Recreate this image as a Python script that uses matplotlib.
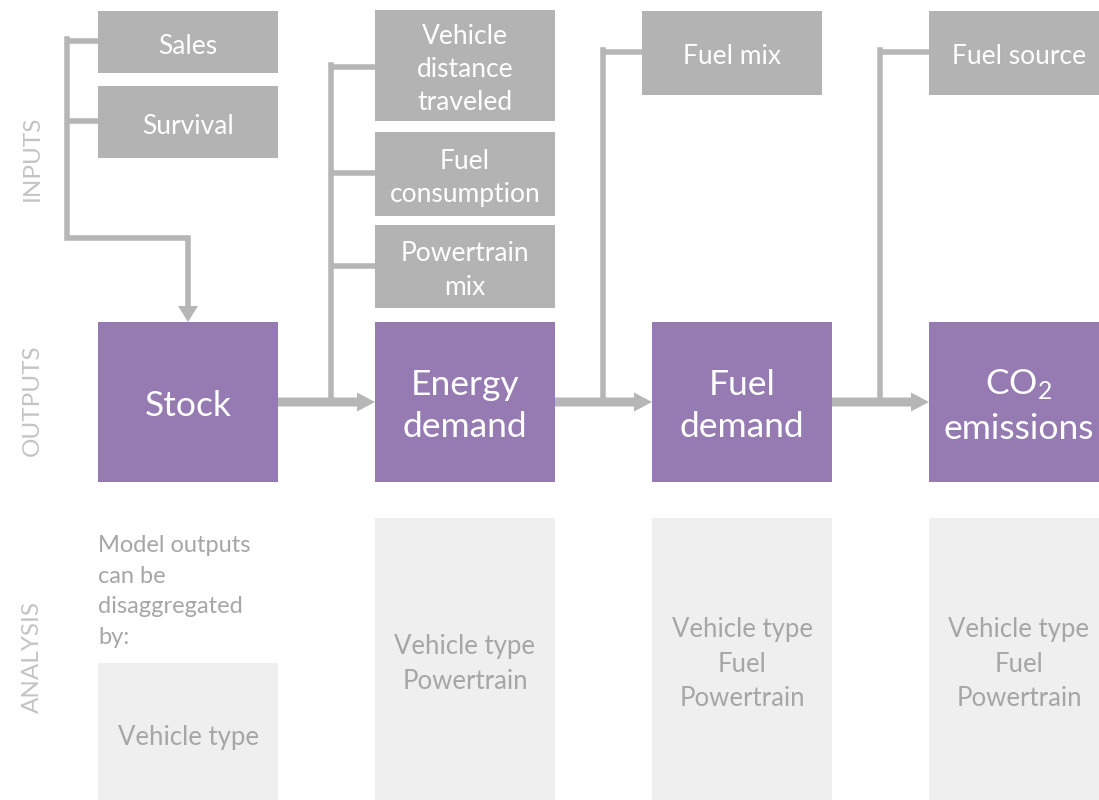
import matplotlib.pyplot as plt
from matplotlib.patches import Rectangle, FancyArrow

plt.rcParams["font.family"] = ["Lato", "DejaVu Sans"]
plt.rcParams["mathtext.fontset"] = "custom"
plt.rcParams["mathtext.rm"] = "Lato"
plt.rcParams["mathtext.it"] = "Lato"

# diagram content
row_labels = ["INPUTS", "OUTPUTS", "ANALYSIS"]
input_labels = [
    ["Sales", "Survival"],
    ["Vehicle\ndistance\ntraveled", "Fuel\nconsumption", "Powertrain\nmix"],
    ["Fuel mix"],
    ["Fuel source"],
]
output_labels = ["Stock", "Energy\ndemand", "Fuel\ndemand", "CO$_2$\nemissions"]
analysis_labels = [
    "Vehicle type",
    "Vehicle type\nPowertrain",
    "Vehicle type\nFuel\nPowertrain",
    "Vehicle type\nFuel\nPowertrain",
]
analysis_note = "Model outputs\ncan be\ndisaggregated\nby:"

# layout (pixels, y measured from top)
col_x = [98, 375, 652, 929]
col_w = 180
input_boxes = [
    [(11, 73), (86, 158)],
    [(10, 121), (132, 216), (225, 308)],
    [(11, 95)],
    [(11, 95)],
]
input_shift = [0, 0, -10, 0]
connector_x = [67, 331, 603, 880]
branch_y = [[41, 121], [67, 173, 266], [52], [52]]
out_top, out_bot = 322, 482
ana_tops = [663, 518, 518, 518]
arrow_y = 402

PURPLE = "#957BB1"
GREY = "#B3B3B3"
LINE = "#B6B6B6"
PALE = "#EFEFEF"
PALE_TXT = "#A6A6A6"
LABEL_TXT = "#C4C4C4"

fig = plt.figure(figsize=(10.99, 8.0), dpi=100)
ax = fig.add_axes([0, 0, 1, 1])
ax.set_xlim(0, 1099)
ax.set_ylim(800, 0)
ax.axis("off")

lw_thin = 4.0

for i, x0 in enumerate(col_x):
    xi = x0 + input_shift[i]
    cx = connector_x[i]
    for (t, b), lab in zip(input_boxes[i], input_labels[i]):
        ax.add_patch(Rectangle((xi, t), col_w, b - t, color=GREY, lw=0))
        ax.text(xi + col_w / 2, (t + b) / 2 + 4, lab, ha="center", va="center",
                color="white", fontsize=19, linespacing=1.42)

    # connector from inputs down to the flow
    for y in branch_y[i]:
        ax.plot([cx, xi], [y, y], color=LINE, lw=lw_thin, solid_capstyle="butt")
    if i == 0:
        ax.plot([cx, cx, 188, 188], [branch_y[i][0] - 2, 238, 238, 306],
                color=LINE, lw=lw_thin, solid_joinstyle="miter")
        ax.add_patch(FancyArrow(188, 304, 0, 18, width=0, head_width=20,
                                head_length=16, length_includes_head=True,
                                color=LINE, lw=0))
    else:
        ax.plot([cx, cx], [branch_y[i][0] - 2, arrow_y], color=LINE, lw=lw_thin,
                solid_joinstyle="miter")

    # output box
    ax.add_patch(Rectangle((x0, out_top), col_w, out_bot - out_top, color=PURPLE, lw=0))
    ax.text(x0 + col_w / 2, (out_top + out_bot) / 2 + 4, output_labels[i],
            ha="center", va="center", color="white", fontsize=25.5, linespacing=1.42)

    # analysis box
    ax.add_patch(Rectangle((x0, ana_tops[i]), col_w, 800 - ana_tops[i] + 5,
                           color=PALE, lw=0))
    ty = 737 if i == 0 else 664
    ax.text(x0 + col_w / 2, ty, analysis_labels[i], ha="center", va="center",
            color=PALE_TXT, fontsize=18.5, linespacing=1.5)

    # main arrow from previous output
    if i > 0:
        xs = col_x[i - 1] + col_w
        ax.add_patch(FancyArrow(xs, arrow_y, x0 - xs, 0, width=9, head_width=19,
                                head_length=18, length_includes_head=True,
                                color=LINE, lw=0))

ax.text(98, 535, analysis_note, ha="left", va="top", color=PALE_TXT,
        fontsize=17, linespacing=1.56)

for lab, y in zip(row_labels, [158, 400, 657]):
    ax.text(32, y, lab, ha="center", va="center", rotation=90,
            color=LABEL_TXT, fontsize=17.5)

fig.savefig("out.png", dpi=100)
